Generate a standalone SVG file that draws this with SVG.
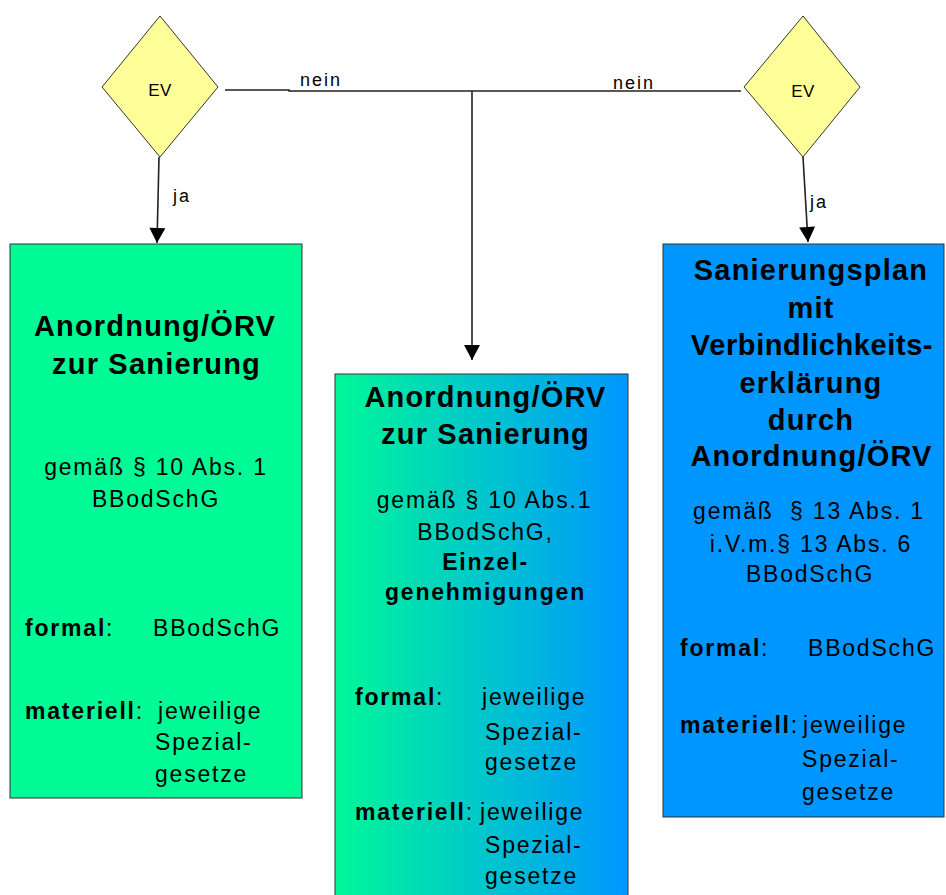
<svg xmlns="http://www.w3.org/2000/svg" width="946" height="895" viewBox="0 0 946 895">
<defs>
<linearGradient id="gm" x1="0" y1="0" x2="1" y2="0">
<stop offset="0" stop-color="#00F898"/>
<stop offset="1" stop-color="#0096FF"/>
</linearGradient>
<marker id="ah" markerUnits="userSpaceOnUse" markerWidth="18" markerHeight="18" viewBox="0 0 18 18" refX="16" refY="9" orient="auto">
<path d="M1,1 L16,9 L1,17 Z" fill="#000"/>
</marker>
<style>
text{font-family:"Liberation Sans",Arial,sans-serif;fill:#000}
.t{font-size:29px;font-weight:bold;letter-spacing:1.2px;text-anchor:middle}
.n{font-size:23px;letter-spacing:1.8px}
.c{text-anchor:middle}
.b{font-weight:bold}
.lbl{font-size:18px;letter-spacing:2px}
.ev{font-size:17px;letter-spacing:0.5px;text-anchor:middle}
.dia{fill:#FFFF99;stroke:#333;stroke-width:1}
.box{stroke:#333;stroke-width:1}
.ln{fill:none;stroke:#222;stroke-width:1.6}
</style>
</defs>
<rect width="946" height="895" fill="#fff"/>

<g id="connectors">
<polyline class="ln" points="225,90 289,90 289,91 741,91"/>
<line class="ln" x1="472" y1="91" x2="472" y2="360" marker-end="url(#ah)"/>
<line class="ln" x1="159" y1="157" x2="157" y2="243" marker-end="url(#ah)"/>
<line class="ln" x1="803" y1="157" x2="808" y2="242" marker-end="url(#ah)"/>
<text class="lbl" x="300" y="86">nein</text>
<text class="lbl" x="613" y="89">nein</text>
<text class="lbl" x="173" y="202">ja</text>
<text class="lbl" x="810" y="208">ja</text>
</g>

<g id="ev-left">
<polygon class="dia" points="160,16 218,87 160,157 102,87"/>
<text class="ev" x="160" y="96">EV</text>
</g>

<g id="ev-right">
<polygon class="dia" points="803,16 860,87 803,157 744,87"/>
<text class="ev" x="803" y="97">EV</text>
</g>

<g id="box-left">
<rect class="box" x="10" y="244" width="292" height="554" fill="#00FA96"/>
<text class="t" x="155" y="336">Anordnung/ÖRV</text>
<text class="t" x="156.5" y="374">zur Sanierung</text>
<text class="n c" x="156" y="475">gemäß § 10 Abs. 1</text>
<text class="n c" x="156" y="507">BBodSchG</text>
<text class="n" x="25" y="636"><tspan class="b">formal</tspan>:</text>
<text class="n" x="153" y="636">BBodSchG</text>
<text class="n" x="25" y="719"><tspan class="b">materiell</tspan>:</text>
<text class="n" x="158" y="719">jeweilige</text>
<text class="n" x="155" y="750">Spezial-</text>
<text class="n" x="155" y="782">gesetze</text>
</g>

<g id="box-middle">
<rect class="box" x="335" y="374" width="293" height="530" fill="url(#gm)"/>
<text class="t" x="485.5" y="407">Anordnung/ÖRV</text>
<text class="t" x="485.5" y="444">zur Sanierung</text>
<text class="n c" x="484.5" y="508">gemäß § 10 Abs.1</text>
<text class="n c" x="485.5" y="540">BBodSchG,</text>
<text class="n c b" x="485.5" y="570">Einzel-</text>
<text class="n c b" x="485.5" y="600">genehmigungen</text>
<text class="n" x="355" y="705"><tspan class="b">formal</tspan>:</text>
<text class="n" x="482" y="705">jeweilige</text>
<text class="n" x="485" y="740">Spezial-</text>
<text class="n" x="485" y="770">gesetze</text>
<text class="n" x="355" y="820"><tspan class="b">materiell</tspan>:</text>
<text class="n" x="480" y="820">jeweilige</text>
<text class="n" x="485" y="853">Spezial-</text>
<text class="n" x="485" y="884">gesetze</text>
</g>

<g id="box-right">
<rect class="box" x="663" y="244" width="281" height="573" fill="#0096FF"/>
<text class="t" x="811" y="280">Sanierungsplan</text>
<text class="t" x="811" y="318">mit</text>
<text class="t" x="812" y="355" style="letter-spacing:0.6px">Verbindlichkeits-</text>
<text class="t" x="811" y="393">erklärung</text>
<text class="t" x="811" y="430">durch</text>
<text class="t" x="811.5" y="466">Anordnung/ÖRV</text>
<text class="n c" x="809" y="519" style="white-space:pre">gemäß  § 13 Abs. 1</text>
<text class="n c" x="811" y="552">i.V.m.§ 13 Abs. 6</text>
<text class="n c" x="810" y="582">BBodSchG</text>
<text class="n" x="680" y="656"><tspan class="b">formal</tspan>:</text>
<text class="n" x="808" y="656">BBodSchG</text>
<text class="n" x="680" y="733"><tspan class="b">materiell</tspan>:</text>
<text class="n" x="803" y="733">jeweilige</text>
<text class="n" x="802" y="767">Spezial-</text>
<text class="n" x="802" y="800">gesetze</text>
</g>
</svg>
